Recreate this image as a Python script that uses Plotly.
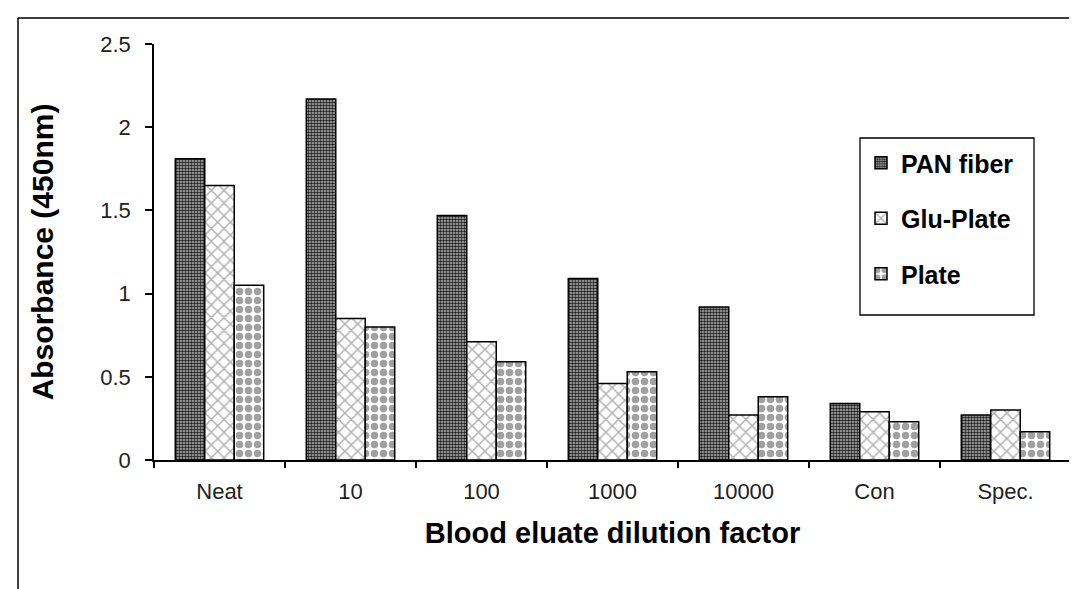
import plotly.graph_objects as go

categories = ["Neat", "10", "100", "1000", "10000", "Con", "Spec."]
pan_fiber = [1.81, 2.17, 1.47, 1.09, 0.92, 0.34, 0.27]
glu_plate = [1.65, 0.85, 0.71, 0.46, 0.27, 0.29, 0.30]
plate = [1.05, 0.80, 0.59, 0.53, 0.38, 0.23, 0.17]
y_ticks = [0, 0.5, 1, 1.5, 2, 2.5]
y_tick_labels = ["0", "0.5", "1", "1.5", "2", "2.5"]

FONT = "Arial, 'Liberation Sans', sans-serif"
W, H = 1077, 589
L, R, T, B = 146, 14, 36, 137
pw, ph = W - L - R, H - T - B

def px_x(px):
    return (px - L) / pw

def px_y(py):
    return (H - B - py) / ph

fig = go.Figure()
fig.add_bar(
    x=categories, y=pan_fiber, name="PAN fiber", legendgroup="a",
    marker=dict(color="#b4b4b4", line=dict(color="black", width=1.5),
                pattern=dict(shape=".", fgcolor="#1e1e1e", bgcolor="#b4b4b4",
                             size=3, solidity=0.55, fillmode="replace")),
)
fig.add_bar(
    x=categories, y=glu_plate, name="Glu-Plate", legendgroup="b",
    marker=dict(color="white", line=dict(color="black", width=1.5),
                pattern=dict(shape="x", fgcolor="#b0b0b0", bgcolor="white",
                             size=9, solidity=0.3, fillmode="replace")),
)
fig.add_bar(
    x=categories, y=plate, name="Plate", legendgroup="c",
    marker=dict(color="white", line=dict(color="black", width=1.5),
                pattern=dict(shape=".", fgcolor="#a0a0a0", bgcolor="white",
                             size=9, solidity=0.55, fillmode="replace")),
)

# outer chart border (top and left edges visible)
fig.add_shape(type="line", xref="paper", yref="paper",
              x0=px_x(10), x1=px_x(W + 5), y0=px_y(10), y1=px_y(10),
              line=dict(color="black", width=1.5))
fig.add_shape(type="line", xref="paper", yref="paper",
              x0=px_x(10), x1=px_x(10), y0=px_y(10), y1=px_y(H + 5),
              line=dict(color="black", width=1.5))
# legend frame
fig.add_shape(type="rect", xref="paper", yref="paper", layer="below",
              x0=px_x(852), x1=px_x(1026), y0=px_y(307), y1=px_y(130),
              line=dict(color="black", width=1.3), fillcolor="white")

fig.update_layout(
    width=W, height=H,
    margin=dict(l=L, r=R, t=T, b=B, pad=0),
    paper_bgcolor="white", plot_bgcolor="white",
    barmode="group", bargap=0.325, bargroupgap=0,
    font=dict(family=FONT, color="black"),
    showlegend=True,
    legend=dict(
        x=px_x(853), y=px_y(132), xanchor="left", yanchor="top",
        borderwidth=0, bgcolor="rgba(0,0,0,0)",
        font=dict(family=FONT, size=25, color="black", weight="bold"),
        traceorder="grouped", tracegroupgap=20,
        itemwidth=30,
    ),
    xaxis=dict(
        type="category", tickson="boundaries",
        showline=True, linecolor="black", linewidth=1.5,
        ticks="outside", ticklen=6, tickwidth=1.5, tickcolor="black",
        tickfont=dict(family=FONT, size=22, color="#222"),
        ticklabelstandoff=11,
        showgrid=False, zeroline=False,
        title=dict(text="Blood eluate dilution factor", standoff=20,
                   font=dict(family=FONT, size=29, color="black", weight="bold")),
    ),
    yaxis=dict(
        range=[0, 2.5], tickvals=y_ticks, ticktext=y_tick_labels,
        showline=True, linecolor="black", linewidth=1.5,
        ticks="outside", ticklen=7, tickwidth=1.5, tickcolor="black",
        tickfont=dict(family=FONT, size=22, color="#222"),
        ticklabelstandoff=10,
        showgrid=False, zeroline=False,
        title=dict(text="Absorbance (450nm)", standoff=38,
                   font=dict(family=FONT, size=30, color="black", weight="bold")),
    ),
)

fig.write_html("out.html")
